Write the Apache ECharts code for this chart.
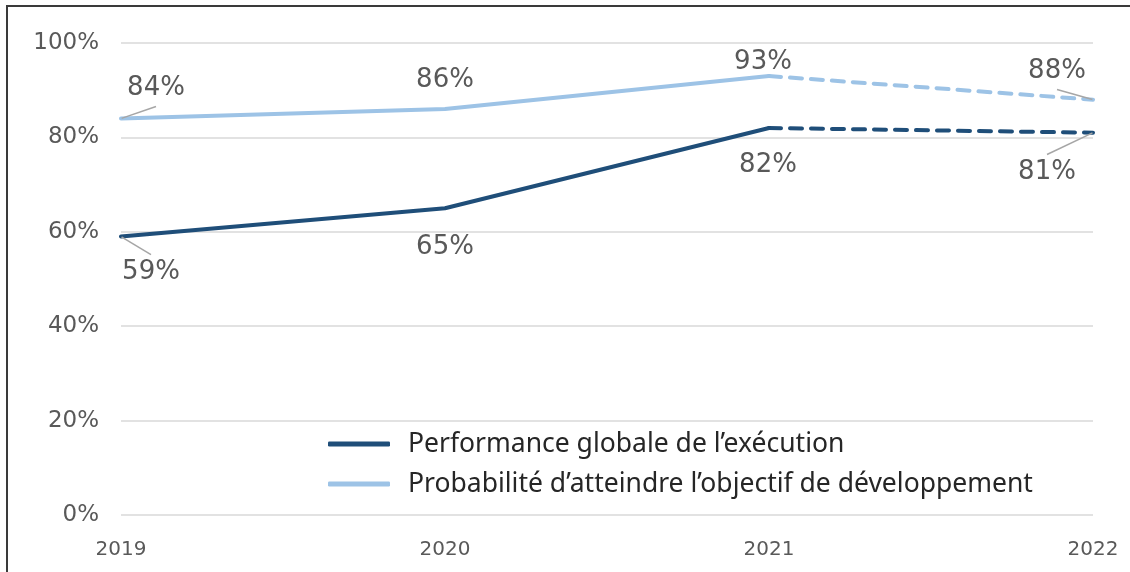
<!DOCTYPE html>
<html>
<head>
<meta charset="utf-8">
<script src="https://cdn.jsdelivr.net/npm/echarts@6/dist/echarts.min.js"></script>
<style>
  html, body { margin: 0; padding: 0; background: #fff; }
  #chart { position: absolute; left: 0; top: 0; width: 1130px; height: 572px; }
  #frame {
    position: absolute; left: 6px; top: 5px; width: 1140px; height: 580px;
    border-left: 2px solid #3a3a3a; border-top: 2px solid #3a3a3a;
    pointer-events: none;
  }
</style>
</head>
<body>
<div id="chart"></div>
<div id="frame"></div>
<script>
// values
const years = ["2019", "2020", "2021", "2022"];
const performance = [59, 65, 82, 81];
const probability = [84, 86, 93, 88];
const lastActual = 2; // 2021 is the last observed year, 2022 is projected
const yTicks = [0, 20, 40, 60, 80, 100];

const perfName = "Performance globale de l’exécution";
const probName = "Probabilité d’atteindre l’objectif de développement";

const darkBlue = "#1f4e79";
const lightBlue = "#9dc3e6";

// label moves (dx, dy) per year, relative to default top/bottom position
const probMoves = [[35, -6.5], [0, -10], [-6, 5], [-36, -4.6]];
const perfMoves = [[30, 12.5], [0, 21], [-1, 19], [-46, 16.3]];
const withGuide = [0, 3];

function split(values, dashed, above) {
  return values.map((v, i) => {
    if (dashed ? i < lastActual : i > lastActual) return null;
    const showLabel = dashed ? i > lastActual : true;
    const guide = showLabel && withGuide.includes(i);
    const label = { show: showLabel };
    // wide transparent box so the guide line attaches under/over the text
    if (guide) {
      label.padding = above ? [0, 60, 5, 60] : [5, 60, 0, 60];
      label.backgroundColor = "rgba(255,255,255,0)";
    }
    return { value: v, label: label, labelLine: { show: guide } };
  });
}

const labelFont = {
  fontFamily: "DejaVu Sans",
  fontSize: 26,
  color: "#595959",
  formatter: (p) => p.value + "%",
};

function makeSeries(name, values, color, dashed, above, moves) {
  return {
    name: dashed ? name + " (projection)" : name,
    type: "line",
    data: split(values, dashed, above),
    symbol: "circle",
    symbolSize: 1,
    itemStyle: { color: color },
    lineStyle: {
      color: color,
      width: 4,
      type: dashed ? [12, 9] : "solid",
      cap: "round",
    },
    label: Object.assign({ position: above ? "top" : "bottom", distance: 5 }, labelFont),
    labelLine: {
      lineStyle: { color: "#a6a6a6", width: 1.5 },
    },
    labelLayout: (params) => {
      const m = moves[params.dataIndex] || [0, 0];
      return { dx: m[0], dy: m[1] };
    },
    emphasis: { disabled: true },
    z: dashed ? 2 : 3,
  };
}

const myChart = echarts.init(document.getElementById("chart"));
myChart.setOption({
  animation: false,
  grid: { left: 121, right: 37, top: 43, bottom: 57, containLabel: false },
  xAxis: {
    type: "category",
    data: years,
    boundaryGap: false,
    axisLine: { show: false },
    axisTick: { show: false },
    axisLabel: {
      fontFamily: "DejaVu Sans",
      fontSize: 20,
      color: "#595959",
      margin: 25,
    },
  },
  yAxis: {
    type: "value",
    min: yTicks[0],
    max: yTicks[yTicks.length - 1],
    interval: yTicks[1] - yTicks[0],
    axisLine: { show: false },
    axisTick: { show: false },
    splitLine: { lineStyle: { color: "#d9d9d9", width: 1.5 } },
    axisLabel: {
      fontFamily: "DejaVu Sans",
      fontSize: 23,
      color: "#595959",
      margin: 22,
      padding: [5, 0, 0, 0],
      formatter: "{value}%",
    },
  },
  legend: {
    data: [perfName, probName],
    orient: "vertical",
    left: 323,
    top: 424,
    icon: "roundRect",
    itemWidth: 62,
    itemHeight: 5,
    itemGap: 10,
    selectedMode: false,
    textStyle: {
      fontFamily: "Noto Sans",
      fontSize: 26.5,
      lineHeight: 30,
      color: "#262626",
      padding: [0, 0, 0, 13],
    },
  },
  series: [
    makeSeries(probName, probability, lightBlue, false, true, probMoves),
    makeSeries(probName, probability, lightBlue, true, true, probMoves),
    makeSeries(perfName, performance, darkBlue, false, false, perfMoves),
    makeSeries(perfName, performance, darkBlue, true, false, perfMoves),
  ],
});
</script>
</body>
</html>
